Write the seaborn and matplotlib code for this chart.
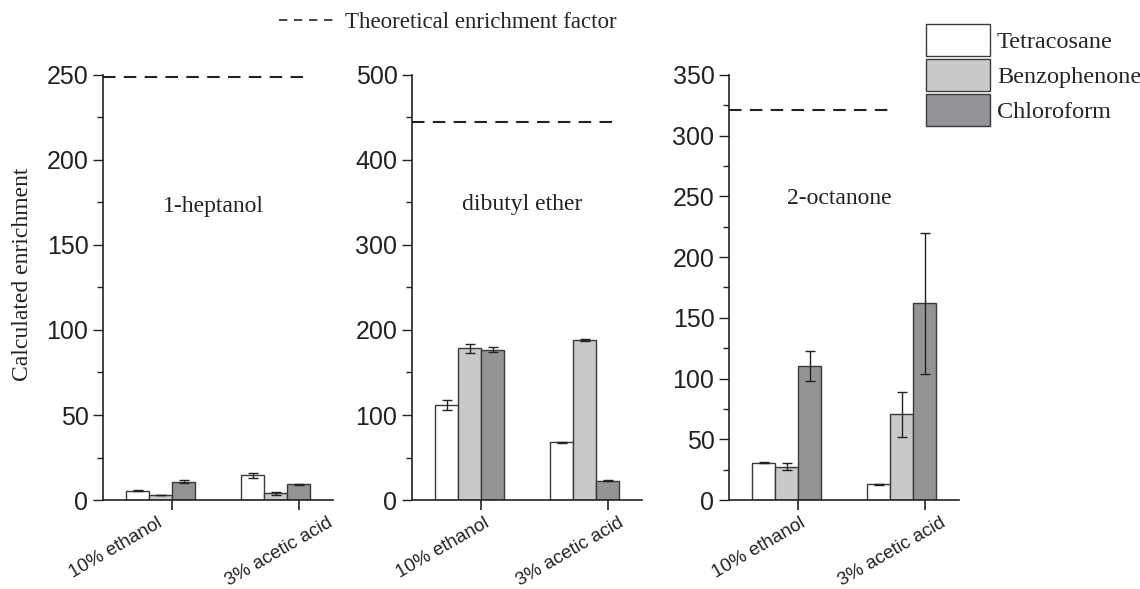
import matplotlib
matplotlib.use("Agg")
import matplotlib.pyplot as plt
from matplotlib.lines import Line2D
from matplotlib.patches import Patch
from matplotlib.ticker import MultipleLocator
from matplotlib.transforms import ScaledTranslation
import numpy as np
import pandas as pd
import seaborn as sns

# ---- data ----
solvents = ["1-heptanol", "dibutyl ether", "2-octanone"]
media = ["10% ethanol", "3% acetic acid"]
analytes = ["Tetracosane", "Benzophenone", "Chloroform"]

# rows = media, columns = analytes
enrich_heptanol = [[5.5, 2.9, 10.8], [14.7, 3.9, 9.2]]
err_heptanol = [[0.3, 0.2, 1.0], [1.5, 0.7, 0.3]]
enrich_dibutyl = [[111.8, 178.4, 177.0], [67.8, 188.2, 22.7]]
err_dibutyl = [[5.5, 5.0, 3.0], [0.5, 1.5, 0.5]]
enrich_octanone = [[30.7, 27.5, 110.6], [12.9, 70.5, 162.0]]
err_octanone = [[0.4, 2.7, 12.3], [0.4, 18.3, 58.0]]

theoretical = [249, 444, 321]
ymax = [250, 500, 350]
major_step = [50, 100, 50]

colors = {"Tetracosane": "#ffffff", "Benzophenone": "#c8c9cb", "Chloroform": "#939497"}

sns.set_style("ticks")
plt.rcParams["font.family"] = ["Liberation Sans", "DejaVu Sans"]
SERIF = ["Liberation Serif", "DejaVu Serif"]
INK = "#222222"

fig = plt.figure(figsize=(11.4, 5.89), dpi=100)
lefts = [0.0904, 0.3614, 0.6395]
dash_end = [1.28, 1.27, 0.92]
label_y = [0.69, 0.695, 0.71]
# the original's tick labels are nudged sideways by a few pixels, not the same in each panel
label_dx = [[-15, 28], [3, 11], [2, 15]]
panels = [
    (enrich_heptanol, err_heptanol),
    (enrich_dibutyl, err_dibutyl),
    (enrich_octanone, err_octanone),
]

for i, (vals, errs) in enumerate(panels):
    ax = fig.add_axes([lefts[i], 0.151, 0.2018, 0.722])
    df = pd.DataFrame(
        [(m, a, vals[r][c], errs[r][c]) for r, m in enumerate(media) for c, a in enumerate(analytes)],
        columns=["medium", "analyte", "value", "err"],
    )
    sns.barplot(
        data=df, x="medium", y="value", hue="analyte", order=media, hue_order=analytes,
        palette=colors, width=0.6, errorbar=None, edgecolor="#3a3a3a", linewidth=1.0,
        legend=False, ax=ax,
    )
    # error bars at the bar centres seaborn laid out
    for cont, a in zip(ax.containers, analytes):
        sub = df[df.analyte == a].set_index("medium").loc[media]
        xs = [p.get_x() + p.get_width() / 2 for p in cont.patches]
        ax.errorbar(xs, sub["value"], yerr=sub["err"], fmt="none", ecolor=INK,
                    elinewidth=1.0, capsize=3.8, capthick=1.0, zorder=5)

    ax.hlines(theoretical[i], -0.5, dash_end[i], colors=INK, linestyles=(0, (6, 4)),
              linewidth=1.5, clip_on=False)

    ax.set_xlim(-0.5, 1.5)
    ax.set_ylim(0, ymax[i])
    ax.yaxis.set_major_locator(MultipleLocator(major_step[i]))
    ax.yaxis.set_minor_locator(MultipleLocator(major_step[i] / 2))
    ax.set_xticks([0.1, 1.2])
    ax.tick_params(axis="y", which="major", length=7, width=1.0, labelsize=18, color=INK,
                   labelcolor=INK)
    ax.tick_params(axis="y", which="minor", length=4, width=1.0, color=INK)
    ax.tick_params(axis="x", length=7, width=1.2, color=INK)
    ax.set_xticklabels(media, rotation=30, ha="right", rotation_mode="anchor", fontsize=13.5,
                       color=INK)
    for lab, dx in zip(ax.get_xticklabels(), label_dx[i]):
        lab.set_transform(lab.get_transform()
                          + ScaledTranslation(dx / 100, 0, fig.dpi_scale_trans))
    for s in ["left", "bottom"]:
        ax.spines[s].set_color(INK)
        ax.spines[s].set_linewidth(1.2)
    sns.despine(ax=ax)
    ax.set_xlabel("")
    ax.set_ylabel("")
    ax.text(0.48, label_y[i], solvents[i], transform=ax.transAxes, ha="center", va="center",
            fontsize=17, family=SERIF, color=INK)

fig.text(23 / 1140, 0.534, "Calculated enrichment", rotation=90, ha="center", va="center",
         family=SERIF, fontsize=17, color=INK)

handles = [Patch(facecolor=colors[a], edgecolor="#3a3a3a", linewidth=1.0) for a in analytes]
fig.legend(handles, analytes, loc="upper left", bbox_to_anchor=(0.797, 0.988), frameon=False,
           prop={"family": SERIF, "size": 17.5}, handlelength=2.63, handleheight=1.66,
           labelspacing=0.12, handletextpad=0.3, borderpad=0.2)

fig.legend([Line2D([], [], color=INK, linestyle=(0, (5, 4)), linewidth=1.2)],
           ["Theoretical enrichment factor"], loc="upper left", bbox_to_anchor=(0.2266, 1.0154),
           frameon=False, prop={"family": SERIF, "size": 16.5}, handlelength=2.6,
           handletextpad=0.3)

fig.savefig("out.png", dpi=100)
